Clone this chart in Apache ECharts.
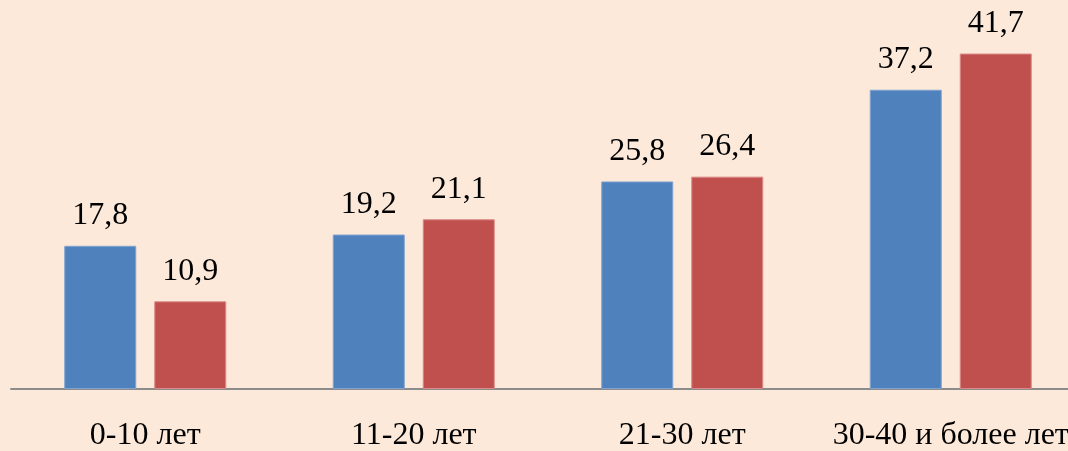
<!DOCTYPE html>
<html>
<head>
<meta charset="utf-8">
<script src="https://cdn.jsdelivr.net/npm/echarts@6/dist/echarts.min.js"></script>
<style>
html, body { margin: 0; padding: 0; background: #FDE9D9; }
#chart { width: 1068px; height: 451px; }
</style>
</head>
<body>
<div id="chart"></div>
<script>
// data
var categories = ['0-10 лет', '11-20 лет', '21-30 лет', '30-40 и более лет']
var seriesA = [17.8, 19.2, 25.8, 37.2]
var seriesB = [10.9, 21.1, 26.4, 41.7]

var chart = echarts.init(document.getElementById('chart'))
var font = '"Liberation Serif", "Times New Roman", serif'

function fmt(p) {
  return String(p.value).replace('.', ',')
}

var option = {
  backgroundColor: '#FDE9D9',
  animation: false,
  grid: {
    left: 11,
    top: 27,
    width: 1074,
    bottom: 62,
    outerBoundsMode: 'none'
  },
  xAxis: {
    type: 'category',
    data: categories,
    axisLine: {
      lineStyle: { color: '#8C8C8C', width: 2 }
    },
    axisTick: { show: false },
    axisLabel: {
      interval: 0,
      color: '#000',
      fontFamily: font,
      fontSize: 32,
      margin: 31
    }
  },
  yAxis: {
    type: 'value',
    min: 0,
    max: 45,
    show: false,
    splitLine: { show: false }
  },
  series: [
    {
      name: 'A',
      type: 'bar',
      barWidth: 72,
      barGap: '25%',
      data: seriesA,
      itemStyle: { color: '#4F81BD', borderColor: '#7FA3D0', borderWidth: 1 },
      label: {
        show: true,
        position: 'top',
        distance: 14,
        color: '#000',
        fontFamily: font,
        fontSize: 32,
        formatter: fmt
      }
    },
    {
      name: 'B',
      type: 'bar',
      barWidth: 72,
      data: seriesB,
      itemStyle: { color: '#C0504D', borderColor: '#D98A88', borderWidth: 1 },
      label: {
        show: true,
        position: 'top',
        distance: 14,
        color: '#000',
        fontFamily: font,
        fontSize: 32,
        formatter: fmt
      }
    }
  ]
}
chart.setOption(option)
</script>
</body>
</html>
